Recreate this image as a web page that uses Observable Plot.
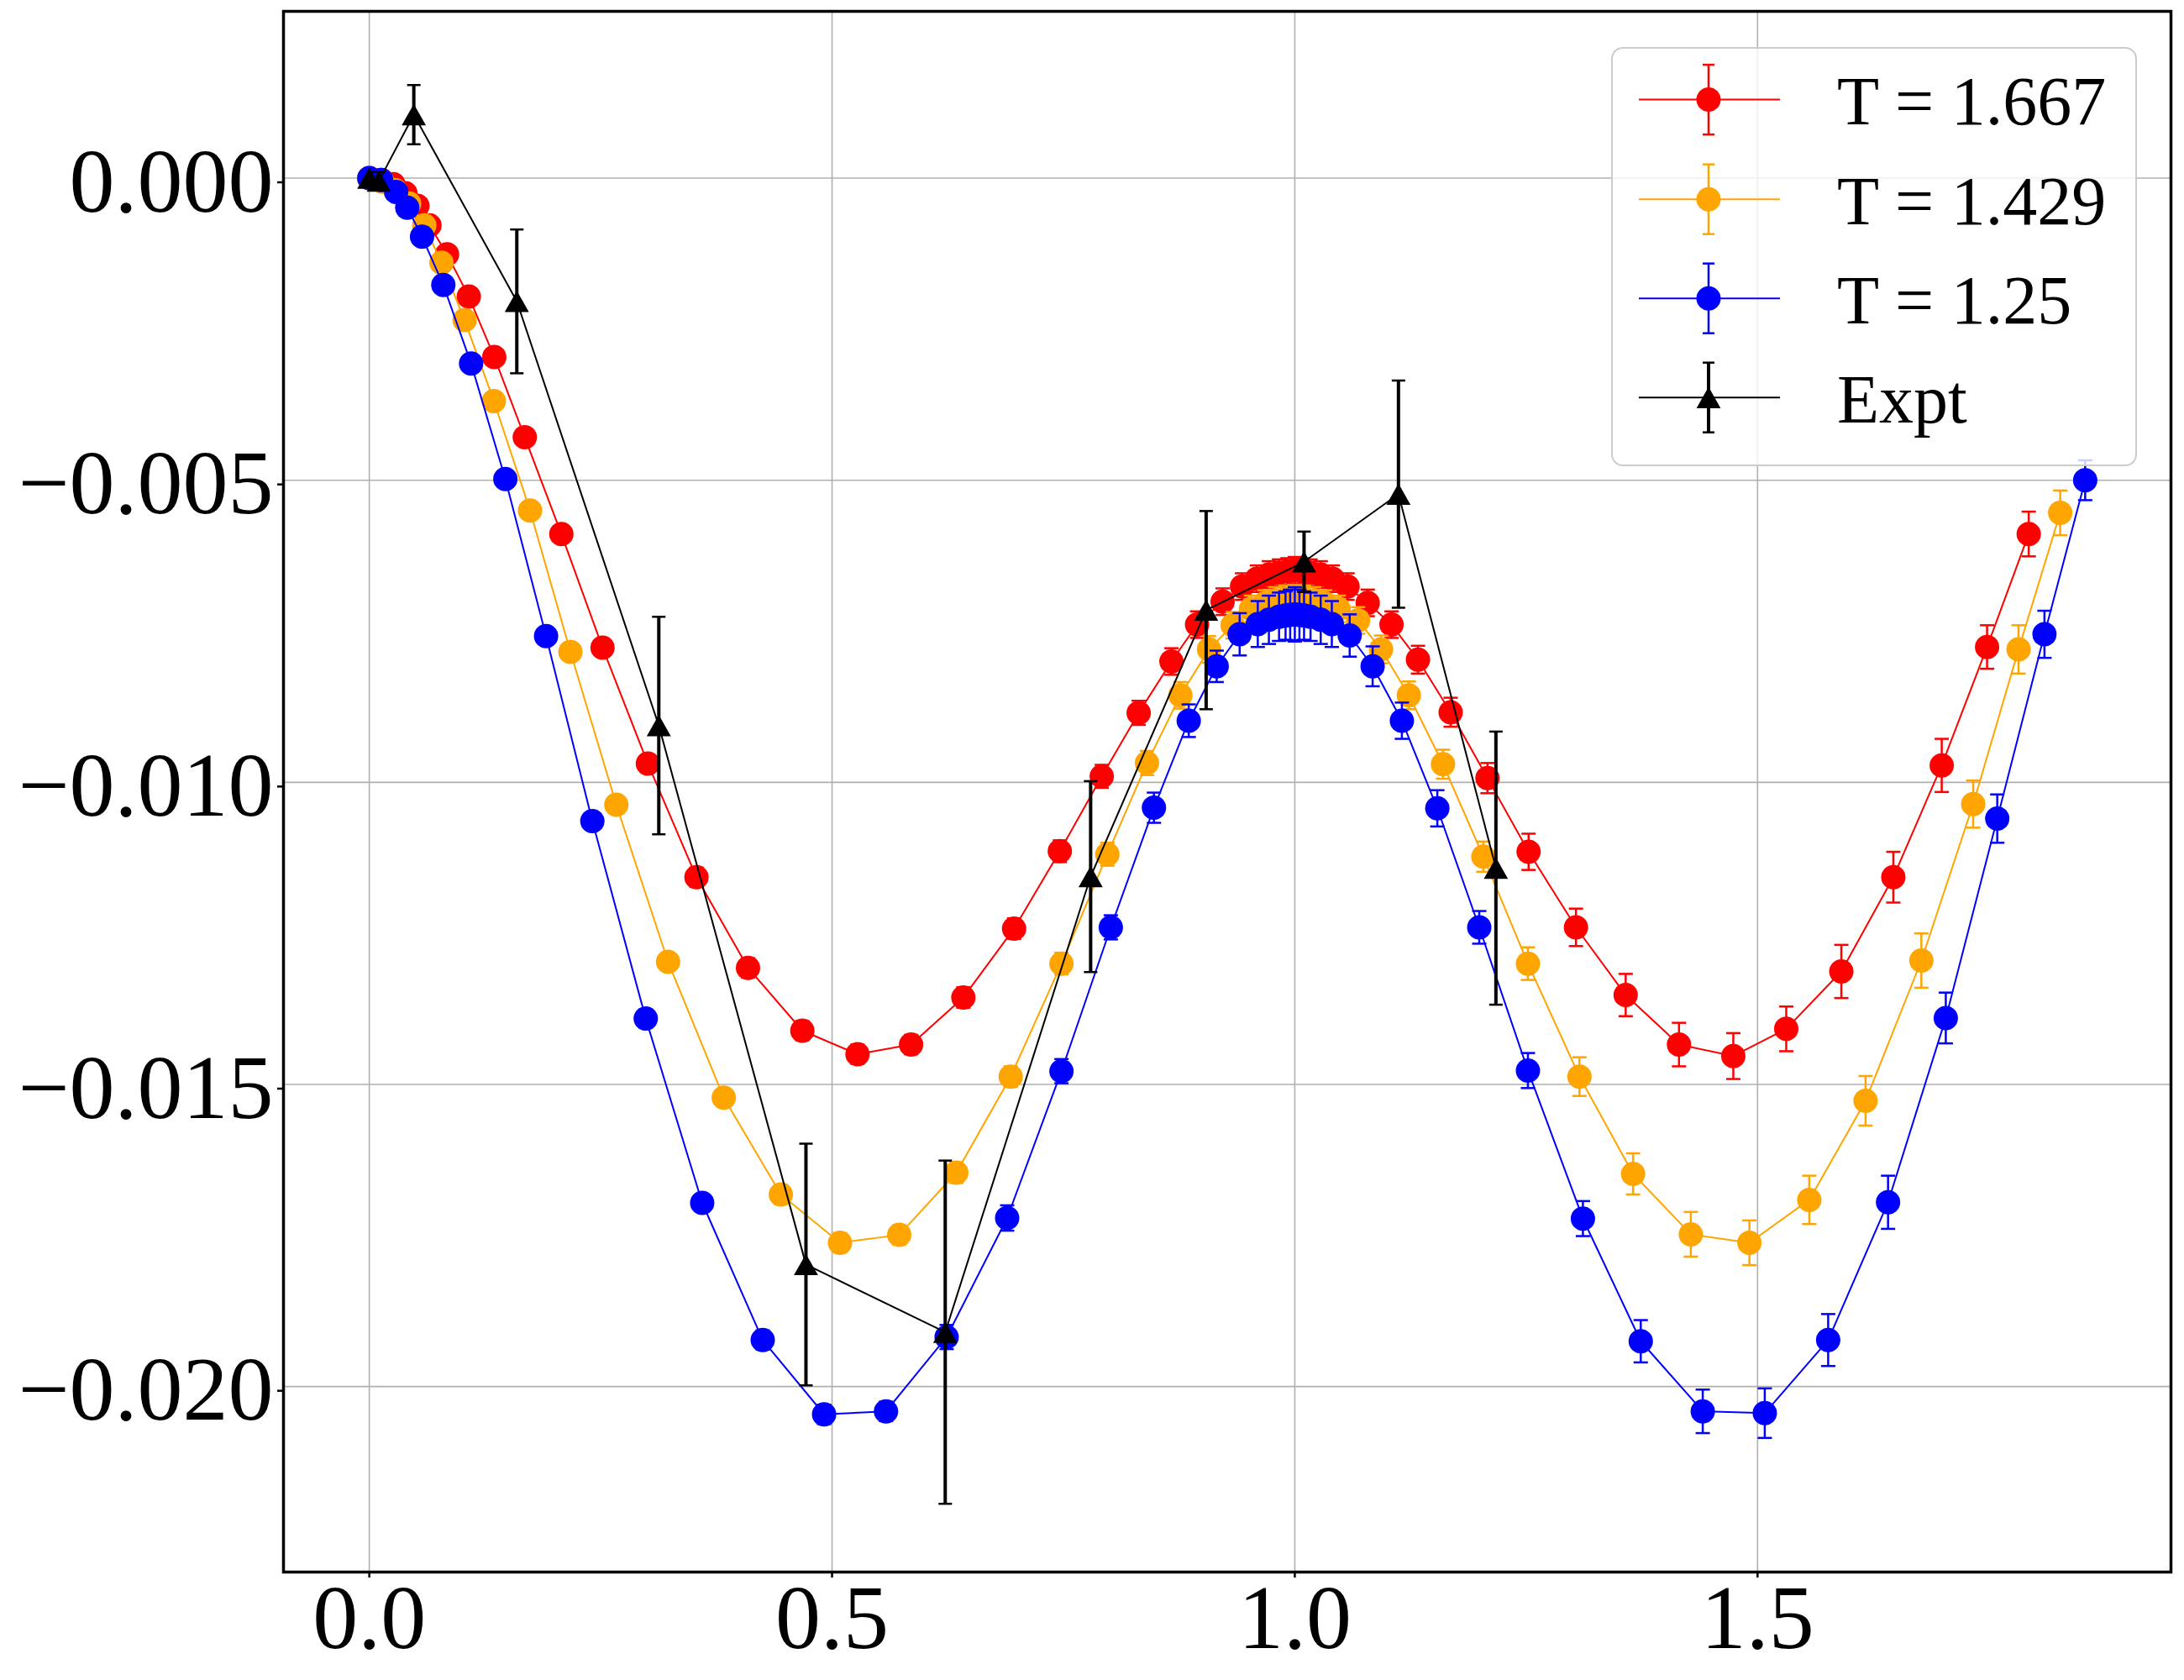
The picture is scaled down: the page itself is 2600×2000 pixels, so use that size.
<!DOCTYPE html>
<html><head><meta charset="utf-8">
<script src="https://cdn.jsdelivr.net/npm/d3@7"></script>
<script src="https://cdn.jsdelivr.net/npm/@observablehq/plot@0.6"></script>
<style>
html,body{margin:0;padding:0;background:#fff;}
#wrap{position:relative;width:2600px;height:2000px;}
#wrap svg{display:block;}
#legend{position:absolute;left:0;top:0;pointer-events:none;}
</style></head><body><div id="wrap"></div>
<script>
// ---------- data ----------
const redX = [0, 0.013, 0.026, 0.039, 0.052, 0.065, 0.084, 0.1075, 0.135, 0.168, 0.2075, 0.252, 0.301, 0.3535, 0.4092, 0.4679, 0.5275, 0.5854, 0.6419, 0.6967, 0.7461, 0.7914, 0.8313, 0.8667, 0.8944, 0.922, 0.943, 0.959, 0.972, 0.983, 0.992, 1.0,
  1.008, 1.017, 1.028, 1.041, 1.057, 1.0788, 1.1045, 1.1331, 1.1684, 1.2082, 1.2526, 1.3038, 1.3575, 1.4151, 1.4738, 1.531, 1.5905, 1.6467, 1.699, 1.748, 1.793];
const redY = [0, -0.00003, -0.0001, -0.00025, -0.00046, -0.00078, -0.00126, -0.00196, -0.00296, -0.00429, -0.00589, -0.00777, -0.00969, -0.01157, -0.01307, -0.01411, -0.0145, -0.01434, -0.01356, -0.01242, -0.01114, -0.0099, -0.00885, -0.008, -0.00739, -0.00701, -0.00676, -0.00663, -0.00656, -0.00653, -0.00651, -0.00649,
  -0.00651, -0.00653, -0.00656, -0.00663, -0.00676, -0.00703, -0.00739, -0.00797, -0.00884, -0.00993, -0.01115, -0.0124, -0.01352, -0.01434, -0.01453, -0.01408, -0.01313, -0.01157, -0.00972, -0.00776, -0.00589];
const redErr = [0.00003, 0.00004, 0.00005, 0.00006, 0.00008, 0.0001, 0.0001, 0.00011, 0.00012, 0.00012, 0.00014, 0.00015, 0.00015, 0.00016, 0.00016, 0.00016, 0.00016, 0.00016, 0.00017, 0.00017, 0.00018, 0.00019, 0.0002, 0.00022, 0.00022, 0.00022, 0.00022, 0.00022, 0.00022, 0.00022, 0.00022, 0.00022,
  0.00022, 0.00022, 0.00022, 0.00022, 0.00022, 0.00022, 0.00022, 0.00023, 0.00024, 0.00025, 0.0003, 0.00031, 0.00035, 0.00036, 0.00038, 0.00037, 0.00044, 0.00042, 0.00044, 0.00036, 0.00037];

const orangeX = [0, 0.014, 0.028, 0.043, 0.0594, 0.078, 0.103, 0.1346, 0.1737, 0.2173, 0.2669, 0.3228, 0.383, 0.4447, 0.5086, 0.5726, 0.6343, 0.693, 0.7479, 0.7975, 0.8403, 0.8764, 0.9073, 0.9328, 0.9526, 0.967, 0.979, 0.99, 1.0,
  1.01, 1.021, 1.033, 1.0474, 1.0684, 1.0932, 1.1232, 1.1601, 1.2037, 1.2519, 1.3076, 1.3655, 1.4279, 1.4912, 1.5559, 1.6167, 1.677, 1.733, 1.782, 1.827];
const orangeY = [0, -0.00006, -0.0002, -0.00042, -0.00078, -0.0014, -0.00235, -0.00369, -0.0055, -0.00784, -0.01037, -0.01297, -0.01522, -0.01682, -0.01762, -0.01749, -0.01646, -0.01487, -0.013, -0.01119, -0.00968, -0.00856, -0.0078, -0.0074, -0.00713, -0.00704, -0.00699, -0.00696, -0.00695,
  -0.00696, -0.00699, -0.00704, -0.00713, -0.00732, -0.0078, -0.00856, -0.0097, -0.01123, -0.013, -0.01487, -0.01648, -0.01748, -0.01762, -0.01691, -0.01527, -0.01295, -0.01036, -0.0078, -0.00554];
const orangeErr = [0.00003, 0.00004, 0.00005, 0.00006, 0.00008, 0.0001, 0.0001, 0.00011, 0.00012, 0.00013, 0.00014, 0.00015, 0.00015, 0.00016, 0.00016, 0.00016, 0.00017, 0.00017, 0.00018, 0.00019, 0.0002, 0.00022, 0.00022, 0.00022, 0.00022, 0.00022, 0.00022, 0.00022, 0.00022,
  0.00022, 0.00022, 0.00022, 0.00022, 0.00022, 0.00023, 0.00023, 0.00024, 0.00025, 0.00027, 0.00032, 0.00034, 0.00037, 0.00037, 0.0004, 0.00041, 0.00045, 0.00039, 0.0004, 0.00037];

const blueX = [0, 0.0128, 0.029, 0.041, 0.057, 0.08, 0.11, 0.147, 0.191, 0.241, 0.2987, 0.3597, 0.4251, 0.4914, 0.5583, 0.6238, 0.6892, 0.7479, 0.8012, 0.8478, 0.8854, 0.9156, 0.9404, 0.96, 0.972, 0.983, 0.99, 0.995, 1.0,
  1.005, 1.01, 1.017, 1.028, 1.04, 1.0593, 1.0841, 1.1157, 1.154, 1.1993, 1.2519, 1.3113, 1.3738, 1.4408, 1.5078, 1.5763, 1.641, 1.7034, 1.759, 1.81, 1.854];
const blueY = [0, -0.00003, -0.00023, -0.00049, -0.00097, -0.00177, -0.00307, -0.00498, -0.00758, -0.01064, -0.01391, -0.01696, -0.01923, -0.02046, -0.02041, -0.01918, -0.01721, -0.01478, -0.0124, -0.01042, -0.00898, -0.00808, -0.00755, -0.00738, -0.00731, -0.00726, -0.00724, -0.00723, -0.00722,
  -0.00723, -0.00724, -0.00726, -0.00731, -0.00738, -0.00757, -0.00808, -0.00898, -0.01043, -0.0124, -0.01477, -0.01722, -0.01925, -0.02041, -0.02044, -0.01923, -0.01695, -0.0139, -0.0106, -0.00755, -0.005];
const blueErr = [0.00003, 0.00004, 0.00005, 0.00006, 0.00008, 0.0001, 0.0001, 0.00012, 0.00012, 0.00014, 0.00015, 0.00015, 0.00016, 0.00016, 0.00016, 0.0002, 0.00021, 0.0002, 0.0002, 0.00025, 0.00027, 0.00026, 0.00035, 0.00038, 0.0004, 0.0004, 0.0004, 0.00042, 0.00045,
  0.00042, 0.0004, 0.0004, 0.0004, 0.00038, 0.00035, 0.00033, 0.0003, 0.0003, 0.00027, 0.00029, 0.00029, 0.00035, 0.00036, 0.00041, 0.00043, 0.00044, 0.00042, 0.0004, 0.00039, 0.00033];

const exptX = [0, 0.0103, 0.0481, 0.1594, 0.3128, 0.4718, 0.6223, 0.7794, 0.9042, 1.01, 1.112, 1.2173];
const exptY = [0, -0.00005, 0.00105, -0.00204, -0.00906, -0.01798, -0.0191, -0.01156, -0.00715, -0.00635, -0.00523, -0.01142];
const exptErr = [0, 0.00015, 0.00049, 0.00119, 0.0018, 0.002, 0.00284, 0.00158, 0.00164, 0.0005, 0.00188, 0.00226];

const xTicks = [0, 0.5, 1.0, 1.5];
const yTicks = [0, -0.005, -0.010, -0.015, -0.020];
const legendLabels = ["T = 1.667", "T = 1.429", "T = 1.25", "Expt"];
const seriesColors = ["red", "orange", "blue", "black"];

// ---------- build ----------
const rows = (xs, ys, es) => xs.map((x, i) => ({x, y: ys[i], e: es[i]}));
const red = rows(redX, redY, redErr);
const orange = rows(orangeX, orangeY, orangeErr);
const blue = rows(blueX, blueY, blueErr);
const expt = rows(exptX, exptY, exptErr);

const cap = (hw) => ({draw(ctx) { ctx.moveTo(-hw, 0); ctx.lineTo(hw, 0); }});
const tri = {draw(ctx) { ctx.moveTo(0, -12.7); ctx.lineTo(14.4, 12.7); ctx.lineTo(-14.4, 12.7); ctx.closePath(); }};

function seriesMarks(data, color, o) {
  const m = [
    Plot.line(data, {x: "x", y: "y", stroke: color, strokeWidth: 2}),
    Plot.ruleX(data.filter(d => d.e > 0), {x: "x", y1: d => d.y - d.e, y2: d => d.y + d.e, stroke: color, strokeWidth: o.barW}),
    Plot.dot(data.filter(d => d.e > 0), {x: "x", y: d => d.y + d.e, symbol: cap(o.capW), r: 5, stroke: color, strokeWidth: o.capSW, fill: "none"}),
    Plot.dot(data.filter(d => d.e > 0), {x: "x", y: d => d.y - d.e, symbol: cap(o.capW), r: 5, stroke: color, strokeWidth: o.capSW, fill: "none"})
  ];
  if (o.triangle) m.push(Plot.dot(data, {x: "x", y: "y", symbol: tri, r: 10, fill: color, stroke: "none"}));
  else m.push(Plot.dot(data, {x: "x", y: "y", r: 14.5, fill: color, stroke: "none"}));
  return m;
}

const font = "Liberation Serif, Times New Roman, serif";
const chart = Plot.plot({
  width: 2600,
  height: 2000,
  marginLeft: 337,
  marginRight: 16,
  marginTop: 13,
  marginBottom: 129,
  style: {fontFamily: font, background: "white", overflow: "visible"},
  x: {domain: [-0.0927, 1.9467], inset: 0},
  y: {domain: [-0.02307, 0.00276], inset: 0},
  marks: [
    Plot.gridX(xTicks, {stroke: "#b0b0b0", strokeOpacity: 1, strokeWidth: 1.6}),
    Plot.gridY(yTicks, {stroke: "#b0b0b0", strokeOpacity: 1, strokeWidth: 1.6}),
    ...seriesMarks(red, seriesColors[0], {barW: 2.5, capW: 8.5, capSW: 2.5}),
    ...seriesMarks(orange, seriesColors[1], {barW: 2.5, capW: 8.5, capSW: 2.5}),
    ...seriesMarks(blue, seriesColors[2], {barW: 2.5, capW: 8.5, capSW: 2.5}),
    ...seriesMarks(expt, seriesColors[3], {barW: 4, capW: 8, capSW: 2.5, triangle: true}),
    Plot.axisX(xTicks, {tickFormat: d3.format(".1f"), fontSize: 108, fontFamily: font, tickSize: 7, tickPadding: 7, stroke: "black", strokeWidth: 2.5, fill: "black", label: null}),
    Plot.axisY(yTicks, {tickFormat: d3.format(".3f"), fontSize: 108, fontFamily: font, tickSize: 7, tickPadding: 5, dy: 5, stroke: "black", strokeWidth: 2.5, fill: "black", label: null}),
    Plot.frame({stroke: "black", strokeWidth: 3.5})
  ]
});
const wrap = document.getElementById("wrap");
wrap.appendChild(chart);

// ---------- legend overlay ----------
const lg = d3.select(wrap).append("svg").attr("id", "legend").attr("width", 2600).attr("height", 2000);
lg.append("rect").attr("x", 1919).attr("y", 57).attr("width", 624).attr("height", 497).attr("rx", 13)
  .attr("fill", "white").attr("fill-opacity", 0.8).attr("stroke", "#cccccc").attr("stroke-width", 2);
const rowY = [118.6, 237.2, 355.2, 473.2];
legendLabels.forEach((label, i) => {
  const c = seriesColors[i], cy = rowY[i], cx = 2034;
  const g = lg.append("g");
  g.append("line").attr("x1", 1951).attr("x2", 2119).attr("y1", cy).attr("y2", cy).attr("stroke", c).attr("stroke-width", 2);
  const bw = i === 3 ? 4 : 2.5;
  g.append("line").attr("x1", cx).attr("x2", cx).attr("y1", cy - 41.5).attr("y2", cy + 41.5).attr("stroke", c).attr("stroke-width", bw);
  [cy - 41.5, cy + 41.5].forEach(yy => g.append("line").attr("x1", cx - 7).attr("x2", cx + 7).attr("y1", yy).attr("y2", yy).attr("stroke", c).attr("stroke-width", 2.5));
  if (i === 3) g.append("path").attr("d", `M${cx},${cy - 12.7}L${cx + 14.4},${cy + 12.7}L${cx - 14.4},${cy + 12.7}Z`).attr("fill", c);
  else g.append("circle").attr("cx", cx).attr("cy", cy).attr("r", 14.5).attr("fill", c);
  g.append("text").attr("x", 2187).attr("y", cy + 29.5).attr("font-family", font).attr("font-size", 82).attr("fill", "black").text(label);
});
</script></body></html>
